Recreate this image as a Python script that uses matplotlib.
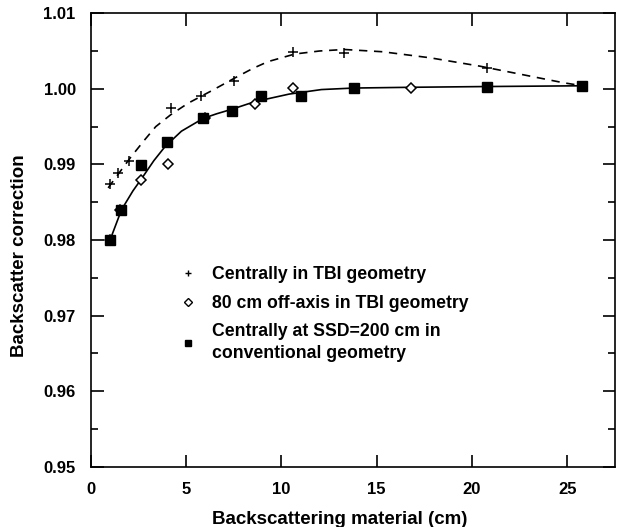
import matplotlib
matplotlib.use('Agg')
import matplotlib.pyplot as plt
from matplotlib.lines import Line2D
from matplotlib.ticker import MultipleLocator, FormatStrFormatter

plt.rcParams['font.family'] = ['Liberation Sans', 'DejaVu Sans']
plt.rcParams['font.weight'] = 'bold'

# Centrally in TBI geometry (+)
x_plus = [1.0, 1.4, 2.0, 4.2, 5.8, 7.5, 10.6, 13.3, 20.8]
y_plus = [0.9874, 0.9889, 0.9904, 0.9974, 0.9991, 1.0010, 1.0049, 1.0047, 1.0027]

# 80 cm off-axis in TBI geometry (open diamond)
x_diam = [1.0, 1.5, 2.65, 4.05, 6.0, 8.6, 10.6, 16.8]
y_diam = [0.9800, 0.9840, 0.9879, 0.9900, 0.9962, 0.9980, 1.0001, 1.0001]

# Centrally at SSD=200 cm, conventional geometry (filled square)
x_sq = [1.0, 1.6, 2.6, 4.0, 5.9, 7.4, 8.9, 11.0, 13.8, 20.8, 25.8]
y_sq = [0.9800, 0.9840, 0.9899, 0.9930, 0.9961, 0.9970, 0.9991, 0.9990, 1.0001, 1.0003, 1.0004]

# dashed fit curve
x_dash = [0.9, 1.6, 2.1, 2.8, 3.4, 4.2, 5.1, 6.3, 7.6, 8.5, 9.3, 10.7, 12.0, 13.3, 15.3,
          17.8, 20.4, 23.0, 24.8, 25.8]
y_dash = [0.9869, 0.9893, 0.9910, 0.9932, 0.9950, 0.9966, 0.9981, 0.9997, 1.0015, 1.0027,
          1.0036, 1.0046, 1.0050, 1.0052, 1.0049, 1.0041, 1.0030, 1.0017, 1.0008, 1.0004]

# solid fit curve
x_solid = [1.0, 1.6, 2.2, 2.65, 3.3, 3.9, 4.75, 5.9, 6.6, 7.4, 8.6, 9.5, 10.4, 12.1, 13.8,
           16.8, 20.8, 25.8]
y_solid = [0.9800, 0.9840, 0.9865, 0.9881, 0.9905, 0.9924, 0.9944, 0.9961, 0.9967, 0.9973,
           0.9983, 0.9988, 0.9993, 0.9999, 1.0001, 1.0002, 1.0003, 1.0004]

fig = plt.figure(figsize=(6.17, 5.27), dpi=100)
ax = fig.add_axes([0.1475, 0.114, 0.849, 0.861])

ax.plot(x_dash, y_dash, color='black', linestyle=(0, (5, 4)), linewidth=1.2)
ax.plot(x_solid, y_solid, color='black', linestyle='-', linewidth=1.2)
ax.plot(x_diam, y_diam, linestyle='none', marker='D', markersize=5.5, markerfacecolor='white',
        markeredgecolor='black', markeredgewidth=1.1)
ax.plot(x_sq, y_sq, linestyle='none', marker='s', markersize=7.5, color='black')
ax.plot(x_plus, y_plus, linestyle='none', marker='+', markersize=7, color='black', markeredgewidth=1.1)

ax.set_xlim(0, 27.5)
ax.set_ylim(0.95, 1.01)
ax.xaxis.set_major_locator(MultipleLocator(5))
ax.yaxis.set_major_locator(MultipleLocator(0.01))
ax.yaxis.set_minor_locator(MultipleLocator(0.005))
ax.yaxis.set_major_formatter(FormatStrFormatter('%.2f'))
ax.tick_params(which='both', direction='in', top=True, right=True, labelsize=12, width=1.2)
ax.tick_params(which='major', length=9)
ax.tick_params(which='minor', length=5)
ax.tick_params(axis='x', pad=11)
ax.tick_params(axis='y', pad=11)
for s in ax.spines.values():
    s.set_linewidth(1.2)

ax.set_xlabel('Backscattering material (cm)', fontsize=13.5, fontweight='bold')
ax.xaxis.set_label_coords(0.475, -0.097)
ax.set_ylabel('Backscatter correction', fontsize=13.5, fontweight='bold')
ax.yaxis.set_label_coords(-0.12, 0.465)

handles = [
    Line2D([], [], linestyle='none', marker='+', markersize=5, color='black'),
    Line2D([], [], linestyle='none', marker='D', markersize=4, markerfacecolor='white',
           markeredgecolor='black'),
    Line2D([], [], linestyle='none', marker='s', markersize=4.5, color='black'),
]
labels = ['Centrally in TBI geometry', '80 cm off-axis in TBI geometry',
          'Centrally at SSD=200 cm in\nconventional geometry']
leg = ax.legend(handles, labels, loc='upper left', bbox_to_anchor=(0.168, 0.442), frameon=False,
                fontsize=12.7, handlelength=1.0, handletextpad=0.85, labelspacing=0.65,
                borderpad=0, borderaxespad=0)
for t in leg.get_texts():
    t.set_linespacing(1.35)

fig.savefig('out.png', dpi=100)
